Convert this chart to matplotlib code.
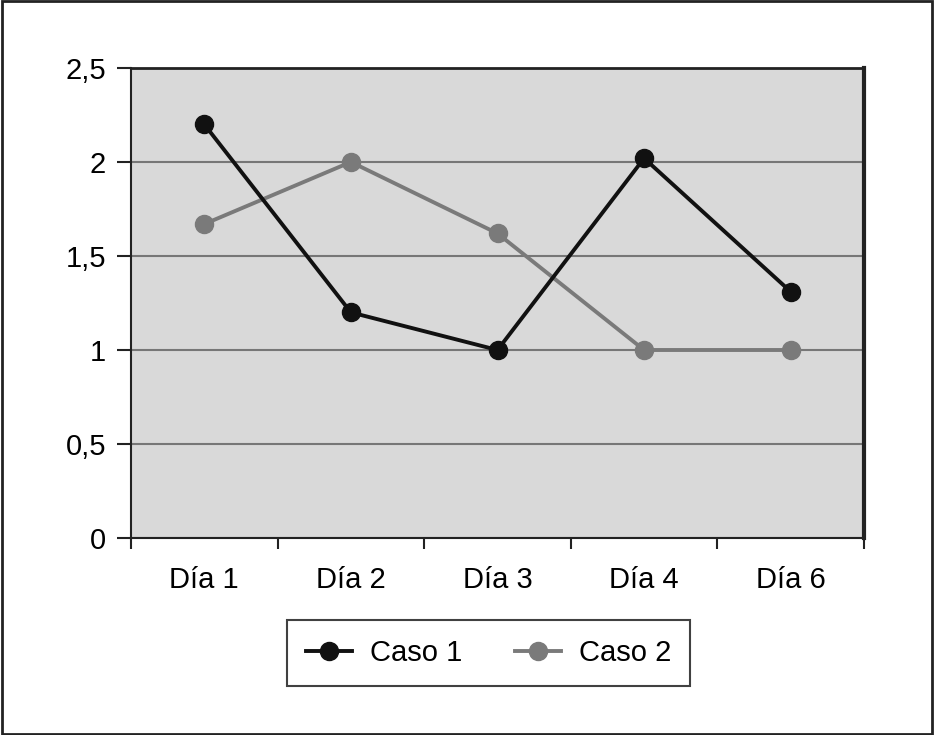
import numpy as np
import matplotlib.pyplot as plt
from matplotlib.ticker import FuncFormatter

plt.rcParams['font.family'] = ['Liberation Sans', 'DejaVu Sans']

dias = ['Día 1', 'Día 2', 'Día 3', 'Día 4', 'Día 6']
caso1 = [2.2, 1.2, 1.0, 2.02, 1.31]
caso2 = [1.67, 2.0, 1.62, 1.0, 1.0]

fig = plt.figure(figsize=(9.34, 7.35), dpi=100)
ax = fig.add_axes([131/934, 1 - 538/735, 733/934, 470/735])
ax.set_facecolor('#d9d9d9')

x = np.arange(len(dias)) + 0.5
ax.plot(x, caso1, color='#111111', lw=2.8, marker='o', ms=13, label='Caso 1', zorder=4)
ax.plot(x, caso2, color='#7a7a7a', lw=2.8, marker='o', ms=13, label='Caso 2', zorder=3)

ax.set_xlim(0, len(dias))
ax.set_ylim(0, 2.5)
ax.set_yticks(np.arange(0, 2.51, 0.5))
ax.yaxis.set_major_formatter(FuncFormatter(lambda v, p: ('%g' % v).replace('.', ',')))
ax.set_xticks(np.arange(len(dias) + 1))
ax.set_xticklabels([])
ax.set_xticks(x, minor=True)
ax.set_xticklabels(dias, minor=True)
ax.tick_params(axis='x', which='minor', length=0, pad=20, labelsize=21)
ax.tick_params(axis='x', which='major', direction='out', length=8, width=1.5, color='#222222')
ax.tick_params(axis='y', direction='out', length=10, width=1.5, color='#222222', labelsize=21, pad=8)
ax.grid(axis='y', color='#777777', lw=1.5)
ax.set_axisbelow(True)
for s in ax.spines.values():
    s.set_color('#222222')
    s.set_linewidth(1.5)
ax.spines['right'].set_linewidth(3)
ax.spines['top'].set_linewidth(2)

leg = ax.legend(loc='upper center', bbox_to_anchor=(0.4875, -0.174), ncol=2, fontsize=21,
                frameon=True, fancybox=False, edgecolor='#111111', handlelength=1.6,
                columnspacing=1.8, borderpad=0.65, handletextpad=0.6, borderaxespad=0)
leg.get_frame().set_linewidth(1.5)

fig.patches.append(plt.Rectangle((0.002, 0.002), 0.996, 0.996, transform=fig.transFigure,
                                 fill=False, edgecolor='#222222', lw=2))

fig.savefig('out.png', dpi=100)
